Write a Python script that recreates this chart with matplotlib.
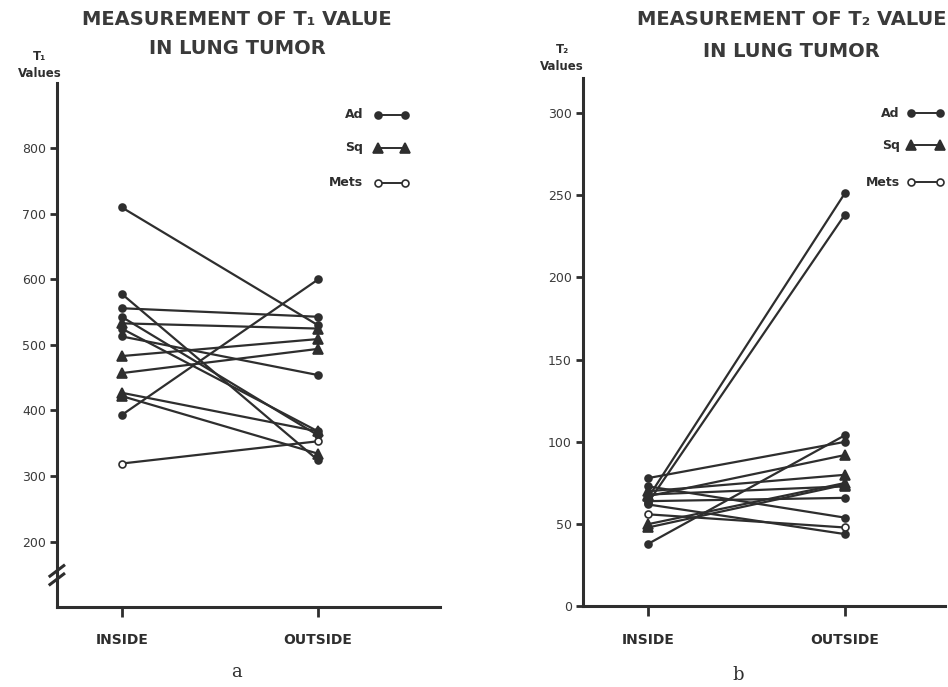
import numpy as np
import matplotlib.pyplot as plt

# T1 values (left panel), inside -> outside
t1_ad_in = [710, 578, 556, 543, 525, 513, 393]
t1_ad_out = [530, 324, 543, 362, 368, 454, 600]
t1_sq_in = [533, 483, 457, 427, 422]
t1_sq_out = [525, 509, 494, 368, 334]
t1_mets_in = [319]
t1_mets_out = [353]

# T2 values (right panel), inside -> outside
t2_ad_in = [66, 63, 38, 78, 73, 64, 62]
t2_ad_out = [251, 238, 104, 100, 54, 66, 44]
t2_sq_in = [67, 50, 48, 68, 70]
t2_sq_out = [92, 75, 74, 73, 80]
t2_mets_in = [56]
t2_mets_out = [48]

groups = ["Ad", "Sq", "Mets"]
positions = ["INSIDE", "OUTSIDE"]
t1_ticks = [200, 300, 400, 500, 600, 700, 800]
t2_ticks = [0, 50, 100, 150, 200, 250, 300]

INK = "#2e2e2e"
styles = {
    "Ad": dict(marker="o", ms=5, mfc=INK),
    "Sq": dict(marker="^", ms=7, mfc=INK),
    "Mets": dict(marker="o", ms=5, mfc="white"),
}


def draw_pairs(ax, name, ins, outs):
    for a, b in zip(ins, outs):
        ax.plot([0, 1], [a, b], color=INK, lw=1.6, mec=INK, mew=1.2,
                clip_on=False, **styles[name])


def style_axes(ax):
    for s in ["top", "right"]:
        ax.spines[s].set_visible(False)
    for s in ["left", "bottom"]:
        ax.spines[s].set_linewidth(2.2)
        ax.spines[s].set_color(INK)
    ax.set_xticks([0, 1])
    ax.set_xticklabels(positions, fontsize=10, fontweight="bold", color=INK)
    ax.tick_params(axis="x", length=7, width=2, color=INK, pad=12)
    ax.tick_params(axis="y", length=5, width=2, color=INK, labelsize=9,
                   labelcolor="#3a3a3a", pad=3)


def draw_legend(ax, xt, x0, x1, ys):
    for name, y in zip(groups, ys):
        ax.text(xt, y, name, transform=ax.transAxes, ha="right", va="center",
                fontsize=9, fontweight="bold", color=INK)
        ax.plot([x0, x1], [y, y], transform=ax.transAxes, color=INK, lw=1.4,
                mec=INK, mew=1.2, clip_on=False, **styles[name])


fig = plt.figure(figsize=(9.48, 6.87), dpi=100)
ax1 = fig.add_axes([0.060, 0.1164, 0.404, 0.763])
ax2 = fig.add_axes([0.615, 0.1172, 0.382, 0.769])

# left panel
draw_pairs(ax1, "Ad", t1_ad_in, t1_ad_out)
draw_pairs(ax1, "Sq", t1_sq_in, t1_sq_out)
draw_pairs(ax1, "Mets", t1_mets_in, t1_mets_out)
ax1.set_xlim(-0.33, 1.62)
ax1.set_ylim(100, 900)
ax1.set_yticks(t1_ticks)
style_axes(ax1)
draw_legend(ax1, 0.80, 0.838, 0.909, [0.939, 0.876, 0.809])
# axis break
for dy in [-0.012, 0.004]:
    ax1.plot([-0.018, 0.018], [0.055 + dy, 0.075 + dy], transform=ax1.transAxes,
             color=INK, lw=2.2, clip_on=False)

# right panel
draw_pairs(ax2, "Ad", t2_ad_in, t2_ad_out)
draw_pairs(ax2, "Sq", t2_sq_in, t2_sq_out)
draw_pairs(ax2, "Mets", t2_mets_in, t2_mets_out)
ax2.set_xlim(-0.33, 1.51)
ax2.set_ylim(0, 321)
ax2.set_yticks(t2_ticks)
style_axes(ax2)
draw_legend(ax2, 0.875, 0.905, 0.985, [0.934, 0.873, 0.803])

# titles and labels
fig.text(0.250, 0.972, "MEASUREMENT OF T\u2081 VALUE", ha="center", va="center",
         fontsize=14, fontweight="heavy", color="#3a3a3a")
fig.text(0.250, 0.930, "IN LUNG TUMOR", ha="center", va="center",
         fontsize=14, fontweight="heavy", color="#3a3a3a")
fig.text(0.835, 0.972, "MEASUREMENT OF T\u2082 VALUE", ha="center", va="center",
         fontsize=14, fontweight="heavy", color="#3a3a3a")
fig.text(0.835, 0.925, "IN LUNG TUMOR", ha="center", va="center",
         fontsize=14, fontweight="heavy", color="#3a3a3a")

fig.text(0.042, 0.905, "T\u2081\nValues", ha="center", va="center",
         fontsize=8.5, fontweight="bold", color=INK, linespacing=1.4)
fig.text(0.593, 0.915, "T\u2082\nValues", ha="center", va="center",
         fontsize=8.5, fontweight="bold", color=INK, linespacing=1.4)

fig.text(0.250, 0.022, "a", ha="center", va="center", fontsize=13,
         family="DejaVu Serif", color=INK)
fig.text(0.779, 0.018, "b", ha="center", va="center", fontsize=13,
         family="DejaVu Serif", color=INK)

fig.savefig("out.png", dpi=100, facecolor="white")
